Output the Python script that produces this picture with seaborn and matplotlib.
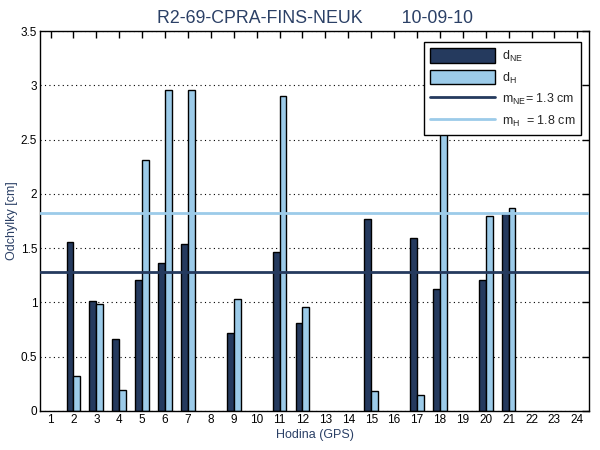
import numpy as np
import pandas as pd
import matplotlib
matplotlib.use("Agg")
import matplotlib.pyplot as plt
import seaborn as sns
from matplotlib.patches import Patch
from matplotlib.lines import Line2D

hours = list(range(1, 25))
d_ne = [np.nan, 1.56, 1.01, 0.66, 1.21, 1.36, 1.54, np.nan, 0.72, np.nan, 1.46, 0.81,
        np.nan, np.nan, 1.77, np.nan, 1.59, 1.12, np.nan, 1.21, 1.82, np.nan, np.nan, np.nan]
d_h = [np.nan, 0.32, 0.985, 0.19, 2.31, 2.96, 2.96, np.nan, 1.03, np.nan, 2.90, 0.96,
       np.nan, np.nan, 0.18, np.nan, 0.145, 3.0, np.nan, 1.80, 1.87, np.nan, np.nan, np.nan]
m_ne = 1.277
m_h = 1.82
series = ["d_NE", "d_H"]
title = "R2-69-CPRA-FINS-NEUK        10-09-10"

dark = "#253a5e"
light = "#9ccbe9"
navy_text = "#2b4066"

sns.set_theme(style="white")
plt.rcParams['font.family'] = ['Liberation Sans', 'DejaVu Sans']
plt.rcParams['mathtext.fontset'] = 'custom'
plt.rcParams['mathtext.rm'] = 'Liberation Sans'

df = pd.DataFrame({
    "hour": hours * 2,
    "value": d_ne + d_h,
    "series": [series[0]] * len(hours) + [series[1]] * len(hours),
})

fig = plt.figure(figsize=(6, 4.5), dpi=100)
ax = fig.add_axes([0.0667, 0.0867, 0.915, 0.8443])

sns.barplot(data=df, x="hour", y="value", hue="series", order=hours,
            hue_order=series, palette=[dark, light], width=0.6, dodge=True,
            edgecolor="black", linewidth=1.0, saturation=1, legend=False, ax=ax,
            errorbar=None)

ax.axhline(m_ne, color=dark, lw=2, zorder=3)
ax.axhline(m_h, color=light, lw=2, zorder=3)

ax.set_xlim(-0.46, 23.51)
ax.set_ylim(0, 3.5)
ax.set_yticks(np.arange(0, 3.51, 0.5))
ax.set_yticklabels(["0", "0.5", "1", "1.5", "2", "2.5", "3", "3.5"])
ax.set_xticks(range(24))
ax.set_xticklabels([str(h) for h in hours])

ax.set_axisbelow(True)
ax.yaxis.grid(True, color="black", linestyle=(0, (1, 3)), linewidth=0.8)
ax.xaxis.grid(False)

for s in ax.spines.values():
    s.set_color("black")
    s.set_linewidth(1)
ax.tick_params(direction="in", top=True, right=True, length=5, width=1,
               labelsize=8.5, colors="black", pad=2)

ax.set_xlabel("Hodina (GPS)", color=navy_text, fontsize=9, labelpad=2)
ax.set_ylabel("Odchylky [cm]", color=navy_text, fontsize=9, labelpad=2)
ax.set_title(title, color=navy_text, fontsize=12.8, pad=6)

handles = [
    Patch(facecolor=dark, edgecolor="black", linewidth=1),
    Patch(facecolor=light, edgecolor="black", linewidth=1),
    Line2D([0], [0], color=dark, lw=2),
    Line2D([0], [0], color=light, lw=2),
]
labels = [r"d$_{\rm NE}$", r"d$_{\rm H}$", r"m$_{\rm NE}$= 1.3 cm", r"m$_{\rm H}$  = 1.8 cm"]
leg = ax.legend(handles, labels, loc="upper right", bbox_to_anchor=(0.986, 0.971),
                borderaxespad=0, fontsize=9, frameon=True, fancybox=False, framealpha=1,
                edgecolor="black", handlelength=5.2, handleheight=1.4,
                labelspacing=0.5, borderpad=0.5, handletextpad=0.5)
leg.get_frame().set_linewidth(1)
leg.set_zorder(10)

fig.savefig("out.png", dpi=100)
